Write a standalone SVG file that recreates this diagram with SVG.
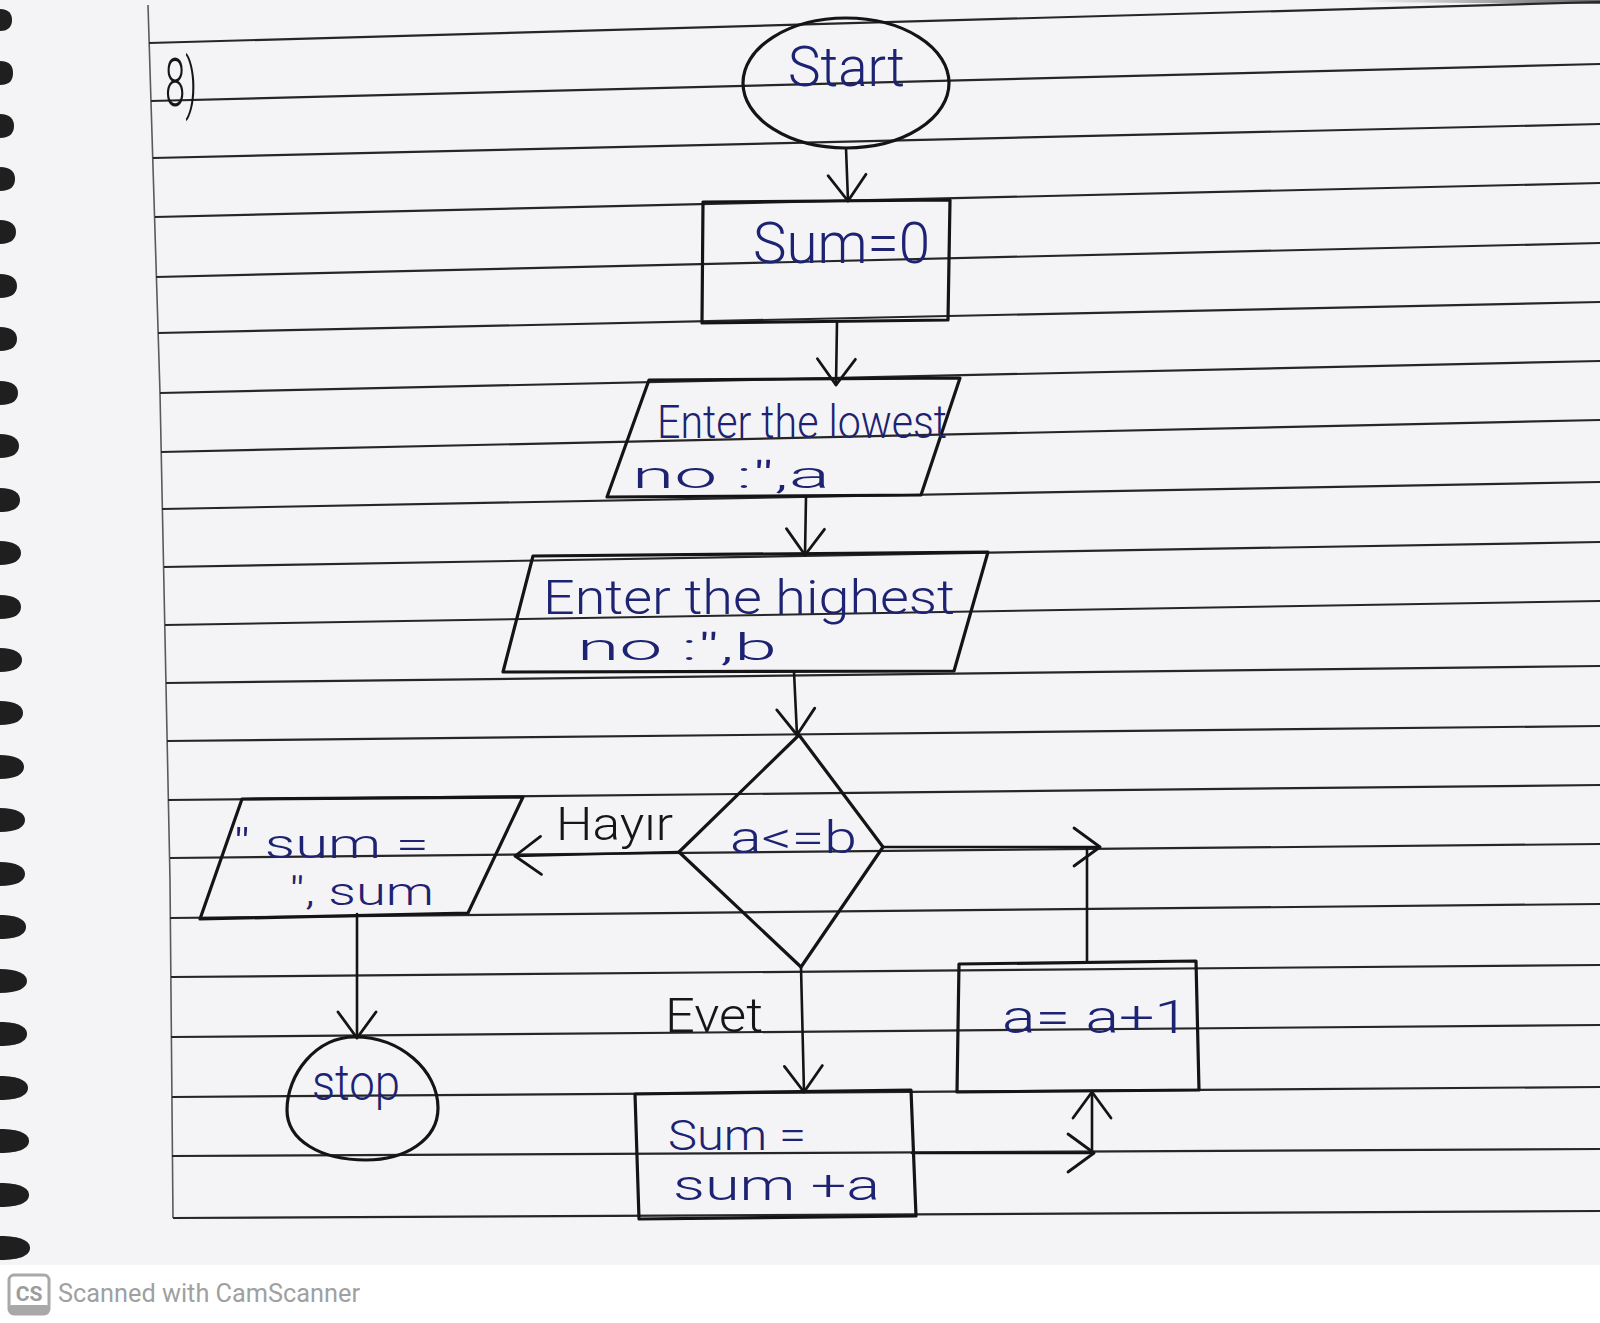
<svg xmlns="http://www.w3.org/2000/svg" width="1600" height="1323" viewBox="0 0 1600 1323">
<style>
.paper{fill:#f4f4f6}
.rule{stroke:#262626;stroke-width:2.2;fill:none}
.margin{stroke:#5a5a5a;stroke-width:1.6;fill:none}
.shape{fill:none;stroke:#141414;stroke-width:3.2;stroke-linejoin:round;stroke-linecap:round}
.conn{fill:none;stroke:#141414;stroke-width:2.6;stroke-linecap:round}
.t{font-family:Roboto,"Liberation Sans",sans-serif;font-weight:300;fill:#1d2372}
.lbl{font-family:Roboto,"Liberation Sans",sans-serif;font-weight:300;fill:#161616}
.ring{fill:#1f1f1f}
</style>
<defs>
<marker id="arr" viewBox="-30 -22 34 44" refX="0" refY="0" markerWidth="34" markerHeight="44" markerUnits="userSpaceOnUse" orient="auto">
<path d="M-26,-19 L0,0 L-26,19" fill="none" stroke="#141414" stroke-width="2.8" stroke-linecap="round" stroke-linejoin="round"/>
</marker>
<linearGradient id="shadow" x1="0" y1="0" x2="1" y2="0">
<stop offset="0" stop-color="#555" stop-opacity="0"/>
<stop offset="1" stop-color="#555" stop-opacity="0.9"/>
</linearGradient>
</defs>

<g id="background">
<rect x="0" y="0" width="1600" height="1323" fill="#ffffff"/>
<rect class="paper" x="0" y="0" width="1600" height="1265"/>
<polygon points="1360,0 1600,0 1600,4 1360,2" fill="url(#shadow)"/>
<path class="margin" d="M148,5 L160,393 L170,880 L173,1218"/>
<g id="rules">
<path class="rule" d="M149,43 L1600,2"/>
<path class="rule" d="M151,101 L1600,64"/>
<path class="rule" d="M153,158 L1600,124"/>
<path class="rule" d="M155,217 L1600,183"/>
<path class="rule" d="M156,277 L1600,243"/>
<path class="rule" d="M158,333 L1600,302"/>
<path class="rule" d="M160,393 L1600,361"/>
<path class="rule" d="M161,452 L1600,420"/>
<path class="rule" d="M162,509 L1600,482"/>
<path class="rule" d="M164,567 L1600,542"/>
<path class="rule" d="M165,625 L1600,601"/>
<path class="rule" d="M166,683 L1600,666"/>
<path class="rule" d="M167,741 L1600,726"/>
<path class="rule" d="M168,800 L1600,785"/>
<path class="rule" d="M170,858 L1600,844"/>
<path class="rule" d="M170,918 L1600,904"/>
<path class="rule" d="M171,977 L1600,965"/>
<path class="rule" d="M171,1037 L1600,1025"/>
<path class="rule" d="M172,1097 L1600,1087"/>
<path class="rule" d="M172,1156 L1600,1149"/>
<path class="rule" d="M173,1218 L1600,1211"/>
</g>
<g id="spiral">
<path class="ring" d="M0,9 C9,9 12,14 12,20 C12,26 9,31 0,31 Z"/>
<path class="ring" d="M0,61 C10,61 13,66 13,73 C13,80 10,85 0,85 Z"/>
<path class="ring" d="M0,114 C10,114 14,119 14,126 C14,133 10,138 0,138 Z"/>
<path class="ring" d="M0,167 C11,167 15,172 15,179 C15,186 11,191 0,191 Z"/>
<path class="ring" d="M0,220 C11,220 16,225 16,232 C16,239 11,244 0,244 Z"/>
<path class="ring" d="M0,274 C12,274 17,279 17,286 C17,293 12,298 0,298 Z"/>
<path class="ring" d="M0,327 C12,327 17,332 17,339 C17,346 12,351 0,351 Z"/>
<path class="ring" d="M0,381 C13,381 18,386 18,393 C18,400 13,405 0,405 Z"/>
<path class="ring" d="M0,434 C13,434 19,439 19,446 C19,453 13,458 0,458 Z"/>
<path class="ring" d="M0,488 C14,488 20,493 20,500 C20,507 14,512 0,512 Z"/>
<path class="ring" d="M0,541 C14,541 21,546 21,553 C21,560 14,565 0,565 Z"/>
<path class="ring" d="M0,595 C15,595 21,600 21,607 C21,614 15,619 0,619 Z"/>
<path class="ring" d="M0,648 C15,648 22,653 22,660 C22,667 15,672 0,672 Z"/>
<path class="ring" d="M0,701 C16,701 23,706 23,713 C23,720 16,725 0,725 Z"/>
<path class="ring" d="M0,755 C16,755 24,760 24,767 C24,774 16,779 0,779 Z"/>
<path class="ring" d="M0,808 C17,808 25,813 25,820 C25,827 17,832 0,832 Z"/>
<path class="ring" d="M0,862 C17,862 25,867 25,874 C25,881 17,886 0,886 Z"/>
<path class="ring" d="M0,915 C18,915 26,920 26,927 C26,934 18,939 0,939 Z"/>
<path class="ring" d="M0,969 C18,969 27,974 27,981 C27,988 18,993 0,993 Z"/>
<path class="ring" d="M0,1022 C19,1022 27,1027 27,1034 C27,1041 19,1046 0,1046 Z"/>
<path class="ring" d="M0,1076 C19,1076 28,1081 28,1088 C28,1095 19,1100 0,1100 Z"/>
<path class="ring" d="M0,1129 C20,1129 29,1134 29,1141 C29,1148 20,1153 0,1153 Z"/>
<path class="ring" d="M0,1183 C20,1183 29,1188 29,1195 C29,1202 20,1207 0,1207 Z"/>
<path class="ring" d="M0,1236 C21,1236 30,1241 30,1248 C30,1255 21,1260 0,1260 Z"/>
</g>
<text class="lbl" x="165" y="106" font-size="66" font-weight="400" textLength="32" lengthAdjust="spacingAndGlyphs">8)</text>
</g>

<g id="connectors">
<path class="conn" d="M846,148 L848,201" marker-end="url(#arr)"/>
<path class="conn" d="M837,322 L836,385" marker-end="url(#arr)"/>
<path class="conn" d="M806,497 L805,555" marker-end="url(#arr)"/>
<path class="conn" d="M794,672 L797,735" marker-end="url(#arr)"/>
<path class="conn" d="M679,852 L515,856" marker-end="url(#arr)"/>
<path class="conn" d="M357,914 L357,1038" marker-end="url(#arr)"/>
<path class="conn" d="M801,967 L804,1092" marker-end="url(#arr)"/>
<path class="conn" d="M912,1153 L1094,1153" marker-end="url(#arr)"/>
<path class="conn" d="M1092,1153 L1092,1092" marker-end="url(#arr)"/>
<path class="conn" d="M1087,962 L1087,848"/>
<path class="conn" d="M883,847 L1100,847" marker-end="url(#arr)"/>
<text class="lbl" x="556" y="840" font-size="46" textLength="117" lengthAdjust="spacingAndGlyphs">Hayır</text>
<text class="lbl" x="665" y="1032" font-size="48" textLength="98" lengthAdjust="spacingAndGlyphs">Evet</text>
</g>

<g id="node-start">
<ellipse class="shape" cx="846" cy="83" rx="103" ry="65"/>
<text class="t" x="788" y="86" font-size="56" textLength="117" lengthAdjust="spacingAndGlyphs">Start</text>
</g>

<g id="node-sum0">
<polygon class="shape" points="703,202 950,200 948,320 702,323"/>
<text class="t" x="753" y="263" font-size="58" textLength="177" lengthAdjust="spacingAndGlyphs">Sum=0</text>
</g>

<g id="node-input-a">
<polygon class="shape" points="649,380 960,378 921,495 607,497"/>
<text class="t" x="657" y="438" font-size="46" textLength="290" lengthAdjust="spacingAndGlyphs">Enter the lowest</text>
<text class="t" x="632" y="488" font-size="36" textLength="198" lengthAdjust="spacingAndGlyphs">no :",a</text>
</g>

<g id="node-input-b">
<polygon class="shape" points="533,556 988,552 954,671 503,672"/>
<text class="t" x="543" y="614" font-size="48" textLength="412" lengthAdjust="spacingAndGlyphs">Enter the highest</text>
<text class="t" x="577" y="660" font-size="36" textLength="200" lengthAdjust="spacingAndGlyphs">no :",b</text>
</g>

<g id="node-decision">
<polygon class="shape" points="799,735 883,847 801,967 679,852"/>
<text class="t" x="730" y="853" font-size="44" textLength="127" lengthAdjust="spacingAndGlyphs">a&lt;=b</text>
</g>

<g id="node-output">
<polygon class="shape" points="242,799 523,797 468,913 200,919"/>
<text class="t" x="233" y="858" font-size="40" textLength="196" lengthAdjust="spacingAndGlyphs">" sum =</text>
<text class="t" x="289" y="905" font-size="38" textLength="145" lengthAdjust="spacingAndGlyphs">", sum</text>
</g>

<g id="node-stop">
<path class="shape" d="M355,1037 C400,1037 438,1070 438,1108 C438,1140 405,1160 366,1160 C320,1160 287,1140 287,1110 C287,1075 315,1037 355,1037 Z"/>
<text class="t" x="312" y="1100" font-size="50" textLength="88" lengthAdjust="spacingAndGlyphs">stop</text>
</g>

<g id="node-sumadd">
<polygon class="shape" points="635,1094 911,1090 916,1216 639,1219"/>
<text class="t" x="668" y="1150" font-size="42" textLength="138" lengthAdjust="spacingAndGlyphs">Sum =</text>
<text class="t" x="673" y="1200" font-size="42" textLength="207" lengthAdjust="spacingAndGlyphs">sum +a</text>
</g>

<g id="node-inc">
<polygon class="shape" points="959,964 1196,961 1199,1090 957,1092"/>
<text class="t" x="1002" y="1033" font-size="46" textLength="187" lengthAdjust="spacingAndGlyphs">a= a+1</text>
</g>

<g id="footer">
<rect x="9" y="1275" width="40" height="39" rx="5" fill="#ffffff" stroke="#a8a8a8" stroke-width="3"/>
<rect x="9" y="1305" width="40" height="9" rx="3" fill="#a8a8a8"/>
<text x="29" y="1301" font-family="Roboto,'Liberation Sans',sans-serif" font-weight="bold" font-size="21" fill="#9c9c9c" text-anchor="middle">CS</text>
<text x="58" y="1302" font-family="Roboto,'Liberation Sans',sans-serif" font-size="25" fill="#a0a0a0" textLength="302" lengthAdjust="spacingAndGlyphs">Scanned with CamScanner</text>
</g>
</svg>
